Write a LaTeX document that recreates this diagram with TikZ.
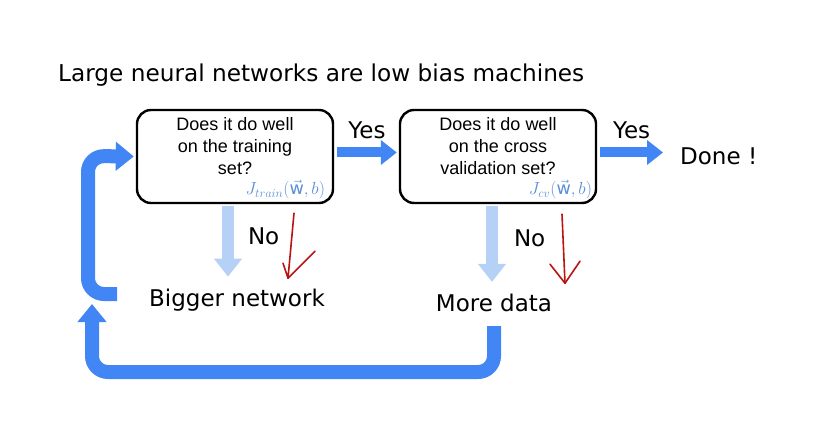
\documentclass[tikz,border=0pt]{standalone}
\usepackage{fix-cm}
\usepackage{fontspec}
\usepackage{amsmath}
\setmainfont{DejaVu Sans}
\newfontfamily\boxfont{Liberation Sans}
\usetikzlibrary{arrows.meta}
\definecolor{gblue}{HTML}{4285F4}
\definecolor{paleblue}{HTML}{B6D1F6}
\definecolor{jblue}{HTML}{5A8ED9}
\definecolor{penred}{HTML}{B81414}

\begin{document}
\begin{tikzpicture}[x=1pt, y=-1pt,
      question/.style={draw, line width=2.4pt, rounded corners=14pt,
         minimum width=196pt, minimum height=93pt, inner sep=0pt},
      questiontext/.style={align=center, inner sep=0pt,
         font=\boxfont\fontsize{18}{22}\selectfont},
      label/.style={text=black, font=\fontsize{23}{27}\selectfont, inner sep=0pt},
      costlabel/.style={text=jblue, font=\fontsize{17.5}{20}\selectfont, inner sep=0pt},
      yesarrow/.style={gblue, line width=10pt, -{Triangle[width=24pt, length=16pt]}},
      noarrow/.style={paleblue, line width=12pt, -{Triangle[width=27pt, length=18pt]}},
      looparrow/.style={gblue, line width=14pt, rounded corners=16pt,
         -{Triangle[width=28pt, length=18pt]}},
      penarrow/.style={penred, line width=1.6pt, line cap=round, line join=round}]

      \useasboundingbox (0,0) rectangle (826,438);

      %title
      \node[anchor=base west, font=\fontsize{23.2}{27}\selectfont, inner sep=0pt]
         (title) at (58,82) {Large neural networks are low bias machines};

      %the two questions
      \node[question] (train) at (235,156.5) {};
      \node[question] (cv) at (498,156.5) {};
      \node[questiontext] (traintext) at ([yshift=10pt]train.center) {Does it do well\\on the training\\set?};
      \node[questiontext] (cvtext) at ([yshift=10pt]cv.center) {Does it do well\\on the cross\\validation set?};
      \node[costlabel, anchor=south east] (jtrain) at ([xshift=-9pt, yshift=5pt]train.south east)
         {$J_{train}(\vec{\mathrm{w}},b)$};
      \node[costlabel, anchor=south east] (jcv) at ([xshift=-5pt, yshift=5pt]cv.south east)
         {$J_{cv}(\vec{\mathrm{w}},b)$};

      %outcomes
      \node[label, anchor=west] (done) at (680,156) {Done !};
      \node[label] (bigger) at (237,300) {Bigger network};
      \node[label] (moredata) at (494,303) {More data};

      %yes branches
      \draw[yesarrow] ([xshift=3pt, yshift=4pt]train.east) -- ([xshift=-2pt, yshift=4pt]cv.west)
         node[midway, above=9pt, label] (yes1) {Yes};
      \draw[yesarrow] ([xshift=3pt, yshift=4pt]cv.east) -- ([xshift=-17pt, yshift=3.5pt]done.west)
         node[midway, above=9pt, label] (yes2) {Yes};

      %no branches
      \draw[noarrow] ([xshift=-7pt, yshift=-2pt]train.south) -- ([xshift=-9pt, yshift=12pt]bigger.north)
         node[pos=0.42, right=14pt, label] (no1) {No};
      \draw[noarrow] ([xshift=-6pt, yshift=-2pt]cv.south) -- ([xshift=-2pt, yshift=12pt]moredata.north)
         node[pos=0.42, right=16pt, label] (no2) {No};

      %hand drawn red arrows
      \draw[penarrow] ([xshift=59pt, yshift=-9pt]train.south) -- ([xshift=53pt, yshift=-74pt]train.south)
         -- ([xshift=48pt, yshift=-59pt]train.south);
      \draw[penarrow] ([xshift=53pt, yshift=-74pt]train.south) -- ([xshift=80pt, yshift=-47pt]train.south);
      \draw[penarrow] ([xshift=64pt, yshift=-10pt]cv.south) -- ([xshift=67pt, yshift=-79pt]cv.south)
         -- ([xshift=52pt, yshift=-60pt]cv.south);
      \draw[penarrow] ([xshift=67pt, yshift=-79pt]cv.south) -- ([xshift=82pt, yshift=-57pt]cv.south);

      %feedback loops
      \coordinate (backtip) at (92,304);
      \coordinate (backstart) at (117,294);
      \draw[looparrow] ([yshift=-14pt]moredata.south) -- (494,372) -- (92,372) -- (backtip);
      \draw[looparrow] (backstart) -- (88,294) -- (88,156) -- ([xshift=-2pt]train.west);

\end{tikzpicture}
\end{document}
